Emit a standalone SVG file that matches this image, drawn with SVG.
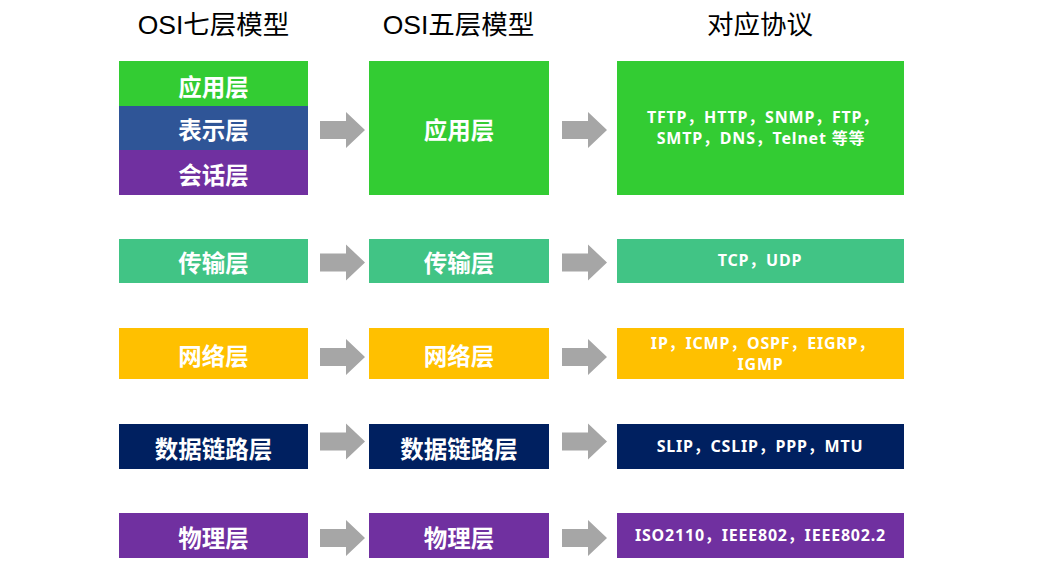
<svg xmlns="http://www.w3.org/2000/svg" xmlns:xlink="http://www.w3.org/1999/xlink" width="1053" height="579" viewBox="0 0 1053 579">
<style>
.title{font-family:"Liberation Sans","Noto Sans CJK SC",sans-serif;font-size:26.5px;fill:#000;text-anchor:middle;dominant-baseline:central}
.lbl{font-family:"Noto Sans CJK SC",sans-serif;font-size:23.5px;font-weight:bold;fill:#fff;text-anchor:middle;dominant-baseline:central}
.proto{font-family:"Noto Sans","Noto Sans CJK SC",sans-serif;font-size:16px;font-weight:bold;fill:#fff;text-anchor:middle;letter-spacing:0.8px}
.arrow{fill:#A6A6A6}
.green{fill:#33CC33}.blue{fill:#2F5597}.purple{fill:#7030A0}.teal{fill:#41C485}.yellow{fill:#FFC000}.navy{fill:#002060}
</style>
<defs>
<path id="arr" d="M0,-9 H26 V-18 L45,0 L26,18 V9 H0 Z"/>
</defs>
<rect width="1053" height="579" fill="#fff"/>
<g id="titles">
<text class="title" x="213.5" y="25">OSI七层模型</text>
<text class="title" x="458.5" y="25">OSI五层模型</text>
<text class="title" x="760" y="25">对应协议</text>
</g>
<g id="osi7-application"><rect class="green" x="119" y="61" width="189" height="45"/><text class="lbl" x="213.5" y="85.5">应用层</text></g>
<g id="osi7-presentation"><rect class="blue" x="119" y="106" width="189" height="44"/><text class="lbl" x="213.5" y="129">表示层</text></g>
<g id="osi7-session"><rect class="purple" x="119" y="150" width="189" height="45"/><text class="lbl" x="213.5" y="173.5">会话层</text></g>
<g id="osi7-transport"><rect class="teal" x="119" y="239" width="189" height="44"/><text class="lbl" x="213.5" y="262">传输层</text></g>
<g id="osi7-network"><rect class="yellow" x="119" y="328" width="189" height="51"/><text class="lbl" x="213.5" y="355">网络层</text></g>
<g id="osi7-datalink"><rect class="navy" x="119" y="424" width="189" height="45"/><text class="lbl" x="213.5" y="448">数据链路层</text></g>
<g id="osi7-physical"><rect class="purple" x="119" y="513" width="189" height="45"/><text class="lbl" x="213.5" y="536.5">物理层</text></g>

<g id="osi5-application"><rect class="green" x="369" y="61" width="180" height="134"/><text class="lbl" x="459" y="129">应用层</text></g>
<g id="osi5-transport"><rect class="teal" x="369" y="239" width="180" height="44"/><text class="lbl" x="459" y="262">传输层</text></g>
<g id="osi5-network"><rect class="yellow" x="369" y="328" width="180" height="51"/><text class="lbl" x="459" y="355">网络层</text></g>
<g id="osi5-datalink"><rect class="navy" x="369" y="424" width="180" height="45"/><text class="lbl" x="459" y="448">数据链路层</text></g>
<g id="osi5-physical"><rect class="purple" x="369" y="513" width="180" height="45"/><text class="lbl" x="459" y="536.5">物理层</text></g>

<g id="proto-application"><rect class="green" x="617" y="61" width="287" height="134"/><text class="proto" x="763" y="123">TFTP，HTTP，SNMP，FTP，</text><text class="proto" x="761" y="144">SMTP，DNS，Telnet 等等</text></g>
<g id="proto-transport"><rect class="teal" x="617" y="239" width="287" height="44"/><text class="proto" x="760" y="266">TCP，UDP</text></g>
<g id="proto-network"><rect class="yellow" x="617" y="328" width="287" height="51"/><text class="proto" x="763" y="349">IP，ICMP，OSPF，EIGRP，</text><text class="proto" x="760.5" y="370">IGMP</text></g>
<g id="proto-datalink"><rect class="navy" x="617" y="424" width="287" height="45"/><text class="proto" x="760" y="452">SLIP，CSLIP，PPP，MTU</text></g>
<g id="proto-physical"><rect class="purple" x="617" y="513" width="287" height="45"/><text class="proto" x="760.5" y="541">ISO2110，IEEE802，IEEE802.2</text></g>

<g id="connectors" class="arrow">
<use xlink:href="#arr" href="#arr" x="320" y="130"/>
<use xlink:href="#arr" href="#arr" x="562" y="130"/>
<use xlink:href="#arr" href="#arr" x="320" y="262.5"/>
<use xlink:href="#arr" href="#arr" x="562" y="262.5"/>
<use xlink:href="#arr" href="#arr" x="320" y="357"/>
<use xlink:href="#arr" href="#arr" x="562" y="357"/>
<use xlink:href="#arr" href="#arr" x="320" y="441.5"/>
<use xlink:href="#arr" href="#arr" x="562" y="441.5"/>
<use xlink:href="#arr" href="#arr" x="320" y="538"/>
<use xlink:href="#arr" href="#arr" x="562" y="538"/>
</g>
</svg>
